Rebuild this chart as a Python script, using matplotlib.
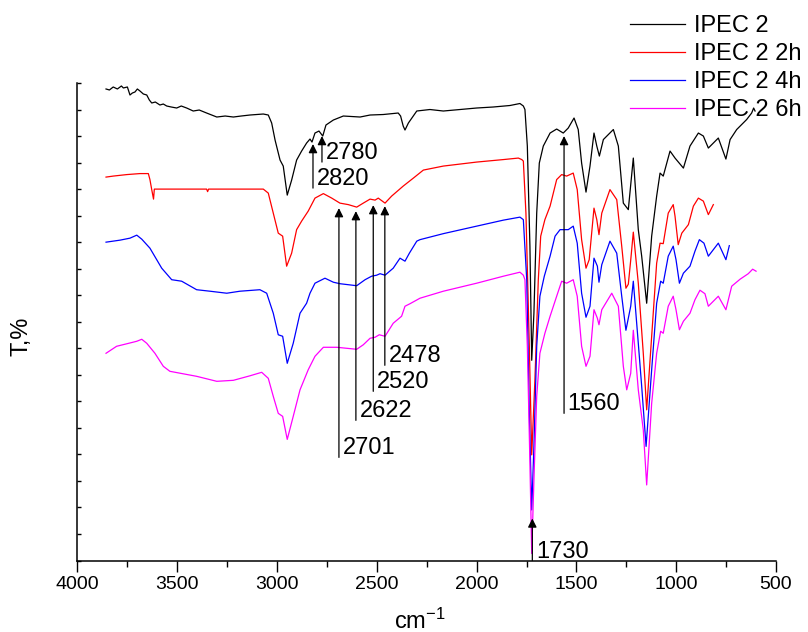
import numpy as np
import matplotlib.pyplot as plt

plt.rcParams['font.family'] = ['Liberation Sans', 'DejaVu Sans']
plt.rcParams['mathtext.default'] = 'regular'

# wavenumber (cm-1) and offset transmittance (arb. units)
wn_0h = [3857, 3840, 3821, 3800, 3780, 3770, 3750, 3737, 3725, 3712, 3700, 3687, 3670, 3653,
         3640, 3628, 3610, 3587, 3570, 3553, 3530, 3503, 3480, 3453, 3420, 3390, 3353,
         3302, 3260, 3219, 3180, 3136, 3069, 3044, 3027, 3010, 2985, 2969, 2949, 2927, 2902, 2877, 2852,
         2835, 2825, 2810, 2790, 2771, 2755, 2718, 2668, 2584, 2534, 2468, 2393, 2381, 2368,
         2359, 2342, 2300, 2234, 2167, 2083, 2000, 1917, 1833, 1783, 1766, 1758, 1746, 1733,
         1724, 1713, 1699, 1686, 1666, 1632, 1599, 1566, 1541, 1512, 1491, 1474, 1452, 1432,
         1412, 1398, 1385, 1365, 1315, 1290, 1265, 1240, 1215, 1190, 1173, 1148, 1123, 1098,
         1081, 1065, 1031, 1006, 964, 931, 889, 864, 839, 789, 751, 730, 697, 647, 622, 612, 605]
t_0h = [471, 470, 473, 471, 474, 472, 473, 465, 467, 468, 471, 469, 466, 465,
        460, 457, 458, 455, 456, 454, 453, 452, 454, 452, 449, 450, 447,
        443, 444, 443, 444, 445, 446, 445, 437, 420, 400, 394, 365, 380, 400, 409, 417,
        421, 418, 427, 429, 424, 435, 440, 444, 443, 445, 445.5, 447, 444, 434,
        430, 437, 449, 450.5, 449, 450.5, 452, 453, 454.5, 456.5, 454, 450.5, 414, 314,
        200, 247, 347, 397, 414, 427, 431, 427, 432, 442, 430.5, 397, 368, 394,
        427, 414, 404, 420.5, 430.5, 414, 357, 350.5, 402, 330.5, 304, 257, 324, 364,
        387, 384, 409, 402, 392, 414, 427, 424, 412, 422, 401, 420.5, 430.5, 440.5, 447, 452, 449]

wn_2h = [3857, 3821, 3753, 3687, 3645, 3637, 3628, 3619, 3615, 3553, 3353, 3348, 3343, 3069,
         3044, 3019, 2994, 2972, 2952, 2927, 2902, 2877, 2844, 2810, 2768, 2726, 2685, 2643,
         2601, 2568, 2534, 2509, 2493, 2459, 2426, 2368, 2317, 2267, 2167, 2000, 1866, 1791,
         1774, 1766, 1753, 1736, 1724, 1708, 1691, 1679, 1658, 1632, 1599, 1574, 1549, 1516,
         1496, 1474, 1452, 1436, 1412, 1398, 1387, 1373, 1332, 1298, 1273, 1252, 1240, 1228,
         1215, 1190, 1165, 1148, 1123, 1098, 1081, 1065, 1040, 1015, 1006, 990, 972, 939,
         914, 889, 864, 839, 814]
t_2h = [383, 384, 385.5, 386.5, 386.5, 380.5, 370.5, 361, 371, 371, 371, 368.5, 371, 371,
        367, 347, 327, 324, 294, 307, 330.5, 339, 349, 362, 366.5, 362, 357, 355.5,
        353, 357, 361, 360, 362, 357, 364, 374, 382, 390, 394, 398, 400.5, 402,
        400.5, 399, 347, 214, 105.5, 180.5, 280.5, 324, 340.5, 354, 380.5, 385.5, 384, 387,
        370.5, 320.5, 292, 300.5, 352, 340.5, 325.5, 347, 370.5, 360.5, 314, 272, 276, 300,
        328, 277, 207, 150.5, 224, 297, 317, 316.5, 347, 355.5, 344, 315.5, 327, 335.5,
        354, 362, 359, 345.5, 355.5]

wn_4h = [3857, 3787, 3737, 3703, 3678, 3637, 3578, 3528, 3478, 3403, 3336, 3252, 3186, 3086,
         3052, 3019, 2994, 2972, 2949, 2919, 2885, 2852, 2835, 2810, 2760, 2718, 2685, 2601,
         2559, 2526, 2501, 2484, 2459, 2418, 2384, 2359, 2337, 2300, 2284, 2167, 2000, 1866,
         1783, 1766, 1749, 1736, 1724, 1713, 1699, 1683, 1661, 1632, 1607, 1582, 1541, 1516,
         1496, 1474, 1452, 1432, 1412, 1395, 1387, 1373, 1332, 1298, 1273, 1252, 1228, 1215,
         1190, 1173, 1151, 1123, 1098, 1078, 1065, 1040, 1015, 1001, 984, 964, 931, 906,
         884, 861, 839, 789, 751, 734]
t_4h = [318, 320, 322, 325, 321, 312, 292, 280.5, 279, 270.5, 269, 267, 269, 270.5,
        267, 247, 225.5, 224, 197, 217, 247, 257, 267, 277, 282, 278, 276.5, 274.5,
        280.5, 284, 285, 286.5, 285, 292, 302, 299, 307, 319, 320.5, 326.5, 334, 340,
        343, 340.5, 280.5, 147, 50.5, 114, 214, 264, 284, 304, 324, 330.5, 330.5, 334,
        317, 267, 243, 254, 302, 294, 278, 295.5, 319, 307, 264, 230, 254, 279,
        217, 174, 114, 190.5, 257, 279, 277, 304, 314, 300.5, 277, 287, 294, 309,
        320.5, 317, 304, 317, 300.5, 314.5]

wn_6h = [3857, 3804, 3753, 3703, 3678, 3653, 3612, 3570, 3537, 3470, 3403, 3302, 3219, 3136,
         3077, 3044, 3019, 2994, 2972, 2949, 2919, 2885, 2844, 2810, 2768, 2701, 2601, 2568,
         2534, 2509, 2488, 2459, 2418, 2376, 2359, 2334, 2284, 2167, 2000, 1866, 1783, 1766,
         1758, 1746, 1733, 1724, 1713, 1699, 1683, 1658, 1632, 1599, 1574, 1549, 1516, 1496,
         1474, 1452, 1432, 1412, 1395, 1387, 1373, 1323, 1290, 1265, 1248, 1228, 1215, 1190,
         1165, 1148, 1123, 1098, 1078, 1065, 1040, 1015, 1001, 984, 964, 931, 906, 881,
         856, 839, 789, 751, 722, 680, 639, 617, 600]
t_6h = [207, 214, 216.5, 219, 221, 217, 207, 194, 189, 186.5, 184, 179, 180, 184.5,
        188, 182, 164, 147, 144, 121, 144, 170.5, 190.5, 204, 213, 213, 211, 215.5,
        222, 223, 225.5, 224, 237, 244, 254, 256.5, 262, 269, 277, 284, 288, 285,
        280.5, 214, 97, 7, 80.5, 164, 207, 227, 244, 264, 279, 277, 280.5, 264,
        214, 194, 204, 250.5, 242, 235.5, 250.5, 267, 254, 194, 170.5, 187, 230, 170.5,
        130.5, 75.5, 157, 207, 229, 227, 254, 264, 250.5, 230.5, 239, 247, 260.5, 270,
        266.5, 254, 264, 250.5, 274, 281, 286.5, 291, 289]

labels = ['IPEC 2', 'IPEC 2 2h', 'IPEC 2 4h', 'IPEC 2 6h']
colors = ['black', 'red', 'blue', 'magenta']

# peak marks: label, arrow x, arrow tip y, arrow tail y
marks = [('2820', 2820, 416, 372), ('2780', 2775, 424, 398),
         ('2701', 2690, 352, 103), ('2622', 2605, 349, 140),
         ('2520', 2518, 355, 169), ('2478', 2460, 354, 195),
         ('1560', 1562, 424, 147), ('1730', 1721, 42, 0)]

fig = plt.figure(figsize=(8.08, 6.32), dpi=100)
ax = fig.add_axes([0.0959, 0.1131, 0.8645, 0.7556])

series = [(wn_0h, t_0h), (wn_2h, t_2h), (wn_4h, t_4h), (wn_6h, t_6h)]
for (x, y), c, lab in zip(series, colors, labels):
    ax.plot(x, y, color=c, lw=0.9, label=lab)

for txt, x, tip, tail in marks:
    ax.annotate('', xy=(x, tip), xytext=(x, tail),
                arrowprops=dict(arrowstyle='-|>', color='k', lw=0.9,
                                mutation_scale=13, shrinkA=0, shrinkB=0))
    ax.text(x - 18, tail + 9, txt, fontsize=17, ha='left', va='center')

ax.set_xlim(4000, 500)
ax.set_ylim(0, 477)
ax.set_xticks(np.arange(500, 4001, 500))
ax.set_xticks(np.arange(500, 4001, 250), minor=True)
ax.set_yticks(np.arange(0, 478, 26.5))
ax.set_yticklabels([])
ax.tick_params(axis='x', which='major', direction='out', length=8, width=1, labelsize=14)
ax.tick_params(axis='x', which='minor', direction='out', length=4, width=1)
ax.tick_params(axis='y', direction='in', length=3, width=1)
for s in ['top', 'right']:
    ax.spines[s].set_visible(False)
for s in ['left', 'bottom']:
    ax.spines[s].set_linewidth(1.1)

ax.set_xlabel('cm$^{-1}$', fontsize=17)
ax.xaxis.set_label_coords(0.49, -0.1)
ax.set_ylabel('T,%', fontsize=17)
ax.yaxis.set_label_coords(-0.064, 0.47)

fig.legend(loc='upper left', bbox_to_anchor=(630 / 808, 1 - 15 / 632), frameon=False,
           fontsize=17, handlelength=2.35, handletextpad=0.35, labelspacing=0.26,
           borderpad=0, borderaxespad=0)

fig.savefig('out.png', dpi=100)
